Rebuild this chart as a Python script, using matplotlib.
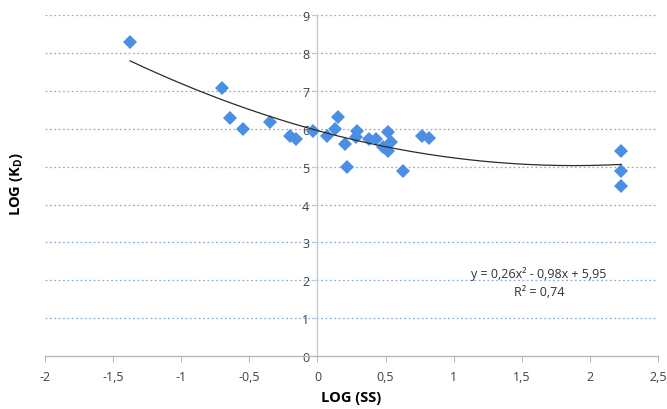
import numpy as np
import matplotlib
matplotlib.use("Agg")
import matplotlib.pyplot as plt

# data (LOG SS vs LOG Kd)
log_ss = [-1.375, -0.70, -0.64, -0.55, -0.35, -0.20, -0.16, -0.03, 0.07, 0.13,
          0.15, 0.20, 0.22, 0.28, 0.29, 0.38, 0.43, 0.48, 0.52, 0.52,
          0.54, 0.63, 0.77, 0.82, 2.23, 2.23, 2.23]
log_kd = [8.28, 7.07, 6.28, 6.00, 6.18, 5.80, 5.73, 5.94, 5.80, 5.98,
          6.30, 5.59, 4.99, 5.78, 5.94, 5.73, 5.73, 5.51, 5.91, 5.41,
          5.65, 4.88, 5.80, 5.75, 5.42, 4.88, 4.48]

# quadratic trendline coefficients as printed on the chart
trend_coef = [0.26, -0.98, 5.95]

x_ticks = [-2, -1.5, -1, -0.5, 0, 0.5, 1, 1.5, 2, 2.5]
y_ticks = list(range(0, 10))


def fmt(v):
    s = ("%g" % v).replace(".", ",")
    return s


def main():
    plt.rcParams['font.family'] = ['Open Sans', 'DejaVu Sans']

    fig = plt.figure(figsize=(6.67, 4.10), dpi=100)
    ax = fig.add_axes([0.0675, 0.129, 0.919, 0.832])
    ax.set_xlim(-2, 2.5)
    ax.set_ylim(0, 9)

    # dotted horizontal gridlines
    for yv in y_ticks[1:]:
        ax.axhline(yv, color='#8fb0d2', lw=0.9, ls=(0, (1.5, 2)), zorder=0)

    for s in ['top', 'right']:
        ax.spines[s].set_visible(False)
    ax.spines['left'].set_position(('data', 0))
    ax.spines['left'].set_color('#c3cbd3')
    ax.spines['bottom'].set_color('#b8b8b8')
    ax.spines['left'].set_linewidth(1.0)
    ax.spines['bottom'].set_linewidth(1.0)

    ax.set_xticks(x_ticks)
    ax.set_xticklabels([fmt(v) for v in x_ticks])
    ax.set_yticks(y_ticks)
    ax.set_yticklabels([fmt(v) for v in y_ticks])
    ax.tick_params(axis='x', direction='out', length=4, color='#b8b8b8',
                   labelsize=9, pad=6, labelcolor='#404040')
    ax.tick_params(axis='y', direction='out', length=3, color='#c3cbd3',
                   labelsize=9, pad=3, labelcolor='#404040')

    # points
    ax.plot(log_ss, log_kd, ls='none', marker='D', markersize=7.5,
            color='#4a8fe3', markeredgewidth=0, zorder=3)

    # trendline
    xs = np.linspace(min(log_ss), max(log_ss), 200)
    ax.plot(xs, np.polyval(trend_coef, xs), color='#2b2b2b', lw=0.9, zorder=4)

    ax.text(1.625, 2.19, "y = 0,26x² - 0,98x + 5,95", ha='center', va='center',
            fontsize=9, color='#303030')
    ax.text(1.625, 1.71, "R² = 0,74", ha='center', va='center',
            fontsize=9, color='#303030')

    ax.set_xlabel("LOG (SS)", fontsize=10.5, fontweight='bold', labelpad=5)
    fig.text(0.024, 0.55, "LOG (K$_\\mathregular{D}$)", rotation=90,
             fontsize=10.5, fontweight='bold', ha='center', va='center')

    fig.savefig("out.png", dpi=100)


if __name__ == "__main__":
    main()
